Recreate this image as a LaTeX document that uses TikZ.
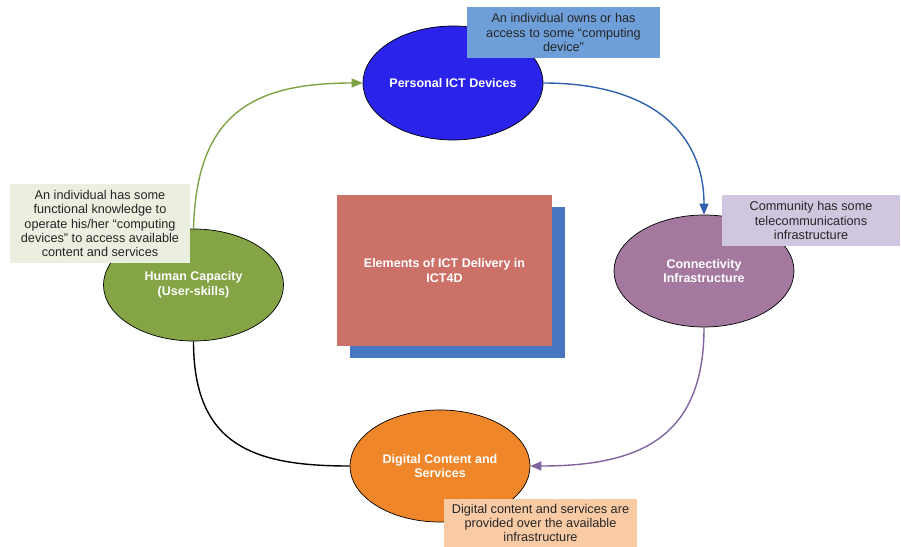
\documentclass[tikz,border=0pt]{standalone}
\usepackage{fontspec}
\setmainfont{Liberation Sans}
\usetikzlibrary{shapes.geometric,arrows.meta}
\definecolor{cPD}{HTML}{2A23EA}
\definecolor{cHC}{HTML}{84A446}
\definecolor{cCI}{HTML}{A4789F}
\definecolor{cDC}{HTML}{F0862A}
\definecolor{cRed}{HTML}{CC7168}
\definecolor{cBlue}{HTML}{4876C0}
\definecolor{nBlue}{HTML}{6F9FD8}
\definecolor{nGreen}{HTML}{EBEFDF}
\definecolor{nPurple}{HTML}{D0C6DF}
\definecolor{nOrange}{HTML}{F9CBA5}
\definecolor{lGreen}{HTML}{7FA244}
\definecolor{lBlue}{HTML}{2F5FAE}
\definecolor{lPurple}{HTML}{8064A2}
\tikzset{
  elem/.style={ellipse, draw=black, line width=0.7pt, minimum width=180pt, minimum height=112pt, inner sep=0pt, text=white, align=center, font=\fontsize{12.5}{14.5}\selectfont\bfseries},
  note/.style={rectangle, inner sep=0pt, align=center, text=black!85, font=\fontsize{12.7}{14.3}\selectfont},
  conn/.style={line width=1.4pt},
  tip/.style={-{Triangle[length=11pt,width=9pt]}}
}
\begin{document}
\begin{tikzpicture}[x=1pt,y=-1pt]
\useasboundingbox (0,0) rectangle (901,546);
% central boxes
\node[fill=cBlue, minimum width=215pt, minimum height=151pt, inner sep=0pt] (shadow) at (457.5,282.5) {};
\node[fill=cRed, minimum width=215pt, minimum height=151pt, inner sep=0pt, text=white, align=center, font=\fontsize{12.5}{14.5}\selectfont\bfseries] (center) at (444.5,270.5) {Elements of ICT Delivery in\\ICT4D};
% ellipses
\node[elem, fill=cPD, minimum height=114pt] (pd) at (453,83) {Personal ICT Devices};
\node[elem, fill=cHC] (hc) at (193.5,285) {Human Capacity\\(User-skills)};
\node[elem, fill=cCI] (ci) at (704,271) {Connectivity\\Infrastructure};
\node[elem, fill=cDC] (dc) at (440,466) {Digital Content and\\Services};
% connectors
\draw[conn, lGreen, tip] (hc.north) .. controls +(3,-115) and +(-110,0) .. (pd.west);
\draw[conn, lBlue, tip] (pd.east) .. controls +(110,0) and +(0,-80) .. (ci.north);
\draw[conn, lPurple, tip] (ci.south) .. controls +(0,110) and +(110,0) .. (dc.east);
\draw[conn, black] (hc.south) .. controls +(0,105) and +(-95,0) .. (dc.west);
% notes
\node[note, fill=nBlue, minimum width=193pt, minimum height=51pt] (n1) at (563.5,32.5) {An individual owns or has\\access to some “computing\\device”};
\node[note, fill=nGreen, minimum width=180pt, minimum height=79pt] (n2) at (100,223.5) {An individual has some\\functional knowledge to\\operate his/her “computing\\devices” to access available\\content and services};
\node[note, fill=nPurple, minimum width=178pt, minimum height=51pt] (n3) at (811,220.5) {Community has some\\telecommunications\\infrastructure};
\node[note, fill=nOrange, minimum width=193pt, minimum height=48pt] (n4) at (540.5,523) {Digital content and services are\\provided over the available\\infrastructure};
\end{tikzpicture}
\end{document}
